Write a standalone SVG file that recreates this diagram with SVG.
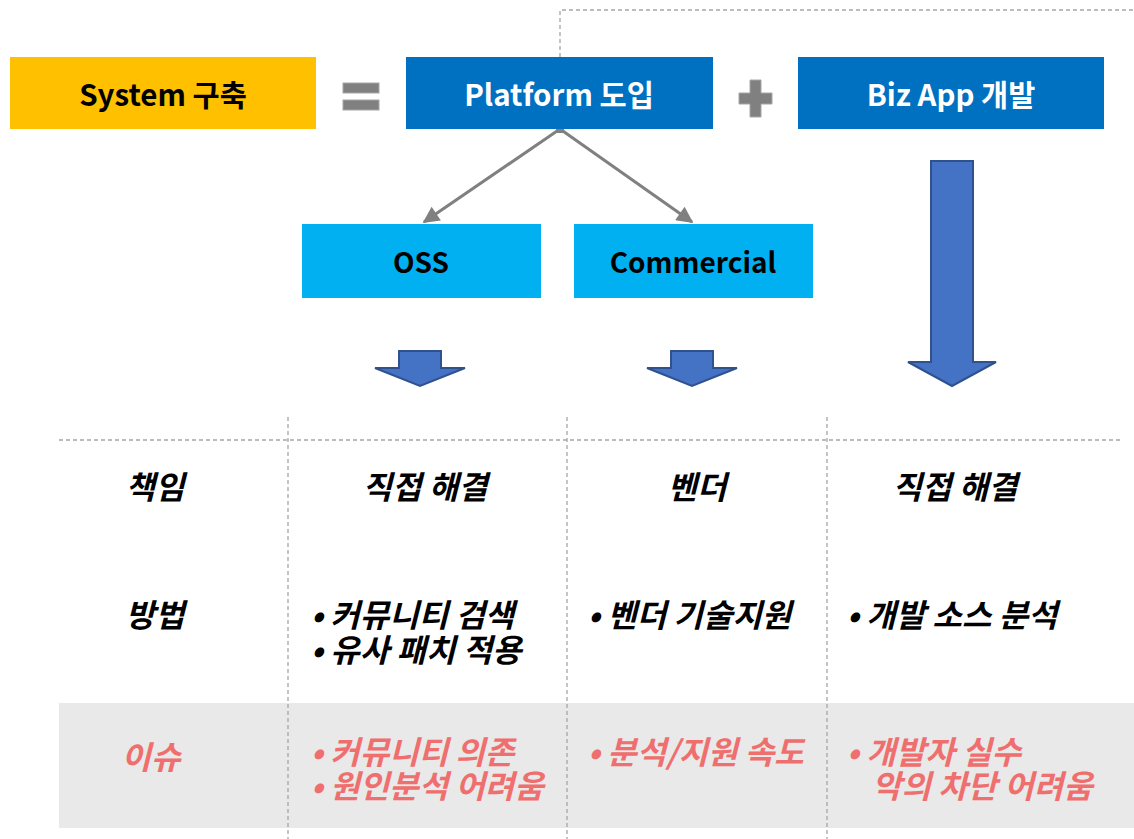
<svg xmlns="http://www.w3.org/2000/svg" width="1134" height="839" viewBox="0 0 1134 839">
<style>
.t{font-family:"Noto Sans CJK KR","Noto Sans",sans-serif;font-weight:700;font-size:28px}
.h{font-size:29.5px}
.w{fill:#fff}
.k{fill:#000}
.i{font-style:italic;font-size:32px}
.r{fill:#EF6F6F}
.dash{stroke:#A6A6A6;stroke-width:1.3;stroke-dasharray:4 3;fill:none}
.conn{stroke:#808080;stroke-width:3;fill:none}
.barr{fill:#4472C4;stroke:#2F528F;stroke-width:2}
.op{fill:#808080;stroke:#A6A6A6;stroke-width:1}
</style>
<defs>
<marker id="ah" viewBox="0 0 10 10" refX="9" refY="5" markerWidth="6.5" markerHeight="5.5" orient="auto" markerUnits="strokeWidth">
<path d="M0,0 L10,5 L0,10 z" fill="#808080"/>
</marker>
</defs>
<rect x="59" y="703" width="1075" height="125" fill="#E9E9E9"/>
<g id="table-lines">
<line class="dash" x1="59" y1="440" x2="1120" y2="440"/>
<line class="dash" x1="288" y1="417" x2="288" y2="839"/>
<line class="dash" x1="567" y1="417" x2="567" y2="839"/>
<line class="dash" x1="827" y1="417" x2="827" y2="839"/>
</g>
<g id="connectors">
<polyline class="dash" points="560,57 560,10 1134,10"/>
<line class="conn" x1="560" y1="129" x2="424" y2="222" marker-end="url(#ah)"/>
<line class="conn" x1="560" y1="129" x2="692" y2="222" marker-end="url(#ah)"/>
<rect x="556" y="125" width="8" height="8" fill="#808080"/>
</g>
<g id="system">
<rect x="10" y="57" width="306" height="72" fill="#FFC000"/>
<text class="t h k" x="163" y="106" text-anchor="middle">System 구축</text>
</g>
<g id="equals">
<rect class="op" x="343" y="83" width="36" height="10"/>
<rect class="op" x="343" y="100" width="36" height="10"/>
</g>
<g id="platform">
<rect x="406" y="57" width="307" height="72" fill="#0070C0"/>
<text class="t h w" x="559" y="106" text-anchor="middle">Platform 도입</text>
</g>
<g id="plus">
<path class="op" d="M750,80 H761 V93 H772 V104 H761 V117 H750 V104 H739 V93 H750 z"/>
</g>
<g id="bizapp">
<rect x="798" y="57" width="306" height="72" fill="#0070C0"/>
<text class="t h w" x="951" y="106" text-anchor="middle">Biz App 개발</text>
</g>
<g id="oss">
<rect x="302" y="224" width="239" height="74" fill="#00B0F0"/>
<text class="t k" x="421" y="273" text-anchor="middle">OSS</text>
</g>
<g id="commercial">
<rect x="574" y="224" width="239" height="74" fill="#00B0F0"/>
<text class="t k" x="693" y="273" text-anchor="middle">Commercial</text>
</g>
<g id="arrow-oss">
<path class="barr" d="M399,351 H441 V368 H465 L420,386 L375,368 H399 z"/>
</g>
<g id="arrow-commercial">
<path class="barr" d="M671,351 H713 V368 H737 L692,386 L647,368 H671 z"/>
</g>
<g id="arrow-bizapp">
<path class="barr" d="M931,161 H973 V362 H996 L952,386 L908,362 H931 z"/>
</g>
<g id="row-responsibility">
<text class="t i k" x="155" y="499" text-anchor="middle">책임</text>
<text class="t i k" x="425" y="499" text-anchor="middle">직접 해결</text>
<text class="t i k" x="697" y="499" text-anchor="middle">벤더</text>
<text class="t i k" x="955" y="499" text-anchor="middle">직접 해결</text>
</g>
<g id="row-method">
<text class="t i k" x="155" y="627" text-anchor="middle">방법</text>
<text class="t i k" x="311" y="627">• 커뮤니티 검색</text>
<text class="t i k" x="311" y="662">• 유사 패치 적용</text>
<text class="t i k" x="588" y="627">• 벤더 기술지원</text>
<text class="t i k" x="847" y="627">• 개발 소스 분석</text>
</g>
<g id="row-issue">
<text class="t i r" x="151" y="769" text-anchor="middle">이슈</text>
<text class="t i r" x="311" y="764">• 커뮤니티 의존</text>
<text class="t i r" x="311" y="798">• 원인분석 어려움</text>
<text class="t i r" x="588" y="764">• 분석/지원 속도</text>
<text class="t i r" x="847" y="764">• 개발자 실수</text>
<text class="t i r" x="872" y="798">악의 차단 어려움</text>
</g>
</svg>
